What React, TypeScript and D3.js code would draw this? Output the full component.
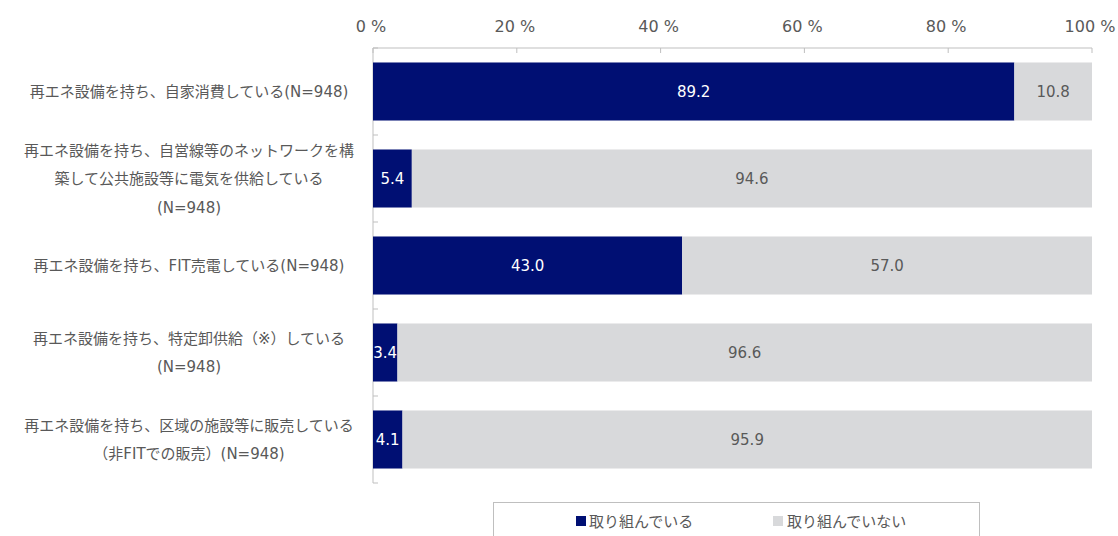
import React from "react";
import * as d3 from "d3";

const categories: string[][] = [
  ["再エネ設備を持ち、自家消費している(N=948)"],
  ["再エネ設備を持ち、自営線等のネットワークを構", "築して公共施設等に電気を供給している", "(N=948)"],
  ["再エネ設備を持ち、FIT売電している(N=948)"],
  ["再エネ設備を持ち、特定卸供給（※）している", "(N=948)"],
  ["再エネ設備を持ち、区域の施設等に販売している", "（非FITでの販売）(N=948)"],
];
const doing = [89.2, 5.4, 43.0, 3.4, 4.1];
const notDoing = [10.8, 94.6, 57.0, 96.6, 95.9];
const seriesNames = ["取り組んでいる", "取り組んでいない"];
const tickValues = [0, 20, 40, 60, 80, 100];

const W = 1118;
const H = 536;
const NAVY = "#000F73";
const GRAY = "#D8D9DB";
const TEXT = "#595959";
const AXIS = "#BFBFBF";
const FONT = "'DejaVu Sans', 'Noto Sans CJK JP', sans-serif";

export default function App() {
  const x = d3.scaleLinear().domain([0, 100]).range([373, 1092]);
  const y = d3
    .scaleBand<number>()
    .domain(d3.range(categories.length))
    .range([48, 483])
    .paddingInner(0.333)
    .paddingOuter(0.1665);
  const step = y.step();
  const top = 48;

  return (
    <svg width={W} height={H} style={{ position: "absolute", left: 0, top: 0, background: "#fff" }}>
      {/* top axis */}
      <line x1={x(0)} x2={x(100)} y1={top} y2={top} stroke={AXIS} strokeWidth={1} />
      {tickValues.map((t) => (
        <g key={t}>
          <line x1={x(t)} x2={x(t)} y1={top} y2={top + 5} stroke={AXIS} />
          <text x={x(t) - 2} y={32} textAnchor="middle" fontFamily={FONT} fontSize={16} fill={TEXT}>
            {`${t} %`}
          </text>
        </g>
      ))}
      {/* left axis */}
      <line x1={x(0)} x2={x(0)} y1={top} y2={top + step * categories.length} stroke={AXIS} />
      {d3.range(categories.length + 1).map((i) => (
        <line key={i} x1={x(0)} x2={x(0) + 5} y1={top + step * i} y2={top + step * i} stroke={AXIS} />
      ))}
      {/* bars */}
      {categories.map((lines, i) => {
        const by = y(i)!;
        const bh = y.bandwidth();
        const cy = by + bh / 2;
        const n = lines.length;
        const lh = 28.5;
        return (
          <g key={i}>
            <rect x={x(0)} y={by} width={x(doing[i]) - x(0)} height={bh} fill={NAVY} />
            <rect x={x(doing[i])} y={by} width={x(100) - x(doing[i])} height={bh} fill={GRAY} />
            <text
              x={(x(0) + x(doing[i])) / 2}
              y={cy + 5.5}
              textAnchor="middle"
              fontFamily={FONT}
              fontSize={15}
              fill="#fff"
            >
              {doing[i].toFixed(1)}
            </text>
            <text
              x={(x(doing[i]) + x(100)) / 2}
              y={cy + 5.5}
              textAnchor="middle"
              fontFamily={FONT}
              fontSize={15}
              fill={TEXT}
            >
              {notDoing[i].toFixed(1)}
            </text>
            {lines.map((ln, j) => (
              <text
                key={j}
                x={189}
                y={cy + 5.5 + (j - (n - 1) / 2) * lh}
                textAnchor="middle"
                fontFamily={FONT}
                fontSize={15}
                fill={TEXT}
              >
                {ln}
              </text>
            ))}
          </g>
        );
      })}
      {/* legend */}
      <rect x={493.5} y={502.5} width={486} height={50} fill="#fff" stroke={AXIS} />
      <rect x={576} y={516} width={10} height={10} fill={NAVY} />
      <text x={589} y={526.5} fontFamily={FONT} fontSize={15} fill={TEXT}>
        {seriesNames[0]}
      </text>
      <rect x={773} y={516} width={10} height={10} fill={GRAY} />
      <text x={787} y={526.5} fontFamily={FONT} fontSize={15} fill={TEXT}>
        {seriesNames[1]}
      </text>
    </svg>
  );
}
